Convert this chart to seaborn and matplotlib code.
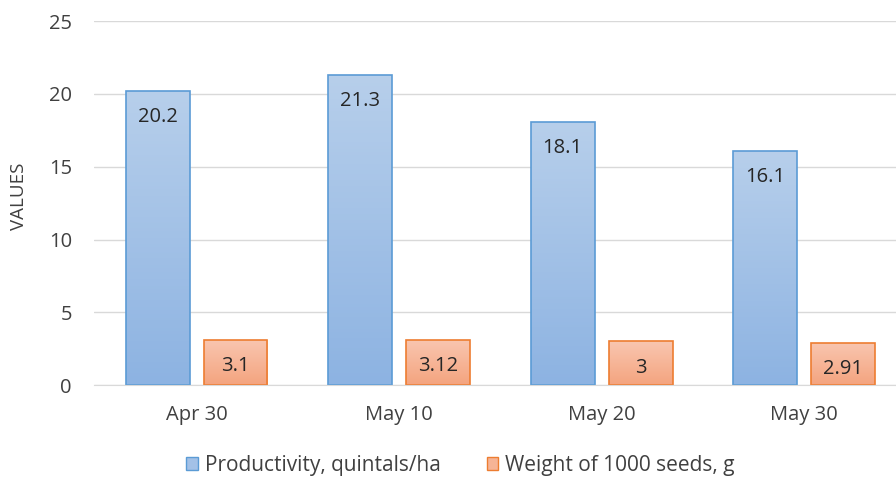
import numpy as np
import pandas as pd
import matplotlib
matplotlib.use('Agg')
import matplotlib.pyplot as plt
import seaborn as sns
from matplotlib.colors import LinearSegmentedColormap
from matplotlib.patches import Patch

# Data
dates = ['Apr 30', 'May 10', 'May 20', 'May 30']
productivity = [20.2, 21.3, 18.1, 16.1]
seed_weight = [3.1, 3.12, 3, 2.91]
series_names = ['Productivity, quintals/ha', 'Weight of 1000 seeds, g']
value_labels = [['20.2', '21.3', '18.1', '16.1'], ['3.1', '3.12', '3', '2.91']]

df = pd.DataFrame({
    'Date': dates * 2,
    'Value': productivity + seed_weight,
    'Series': [series_names[0]] * 4 + [series_names[1]] * 4,
})

sns.set_style('white')
plt.rcParams['font.family'] = ['Open Sans', 'DejaVu Sans']

fig = plt.figure(figsize=(8.96, 4.79), dpi=100)
ax = fig.add_axes([0.105, 0.196, 0.895, 0.760])

edge_cols = ['#5b9bd5', '#ed7d31']
grad_cols = [('#b7cfeb', '#8db3e2'), ('#f9c6b0', '#f4a47f')]
mid_cols = ['#a3c1e7', '#f6b496']

sns.barplot(data=df, x='Date', y='Value', hue='Series', order=dates,
            hue_order=series_names, palette=mid_cols, width=0.77, gap=0.18,
            legend=False, ax=ax)

# gradient fill + value labels
for i, cont in enumerate(ax.containers):
    cmap = LinearSegmentedColormap.from_list('g%d' % i, [grad_cols[i][1], grad_cols[i][0]])
    for j, bar in enumerate(cont):
        x0, y0 = bar.get_x(), bar.get_y()
        w, h = bar.get_width(), bar.get_height()
        bar.set_edgecolor(edge_cols[i])
        bar.set_linewidth(1.2)
        grad = np.linspace(0, 1, 100).reshape(-1, 1)
        im = ax.imshow(grad, cmap=cmap, extent=[x0, x0 + w, y0, y0 + h],
                       origin='lower', aspect='auto', zorder=bar.get_zorder() + 0.1)
        im.set_clip_path(bar)
        bar.set_facecolor('none')
        bar.set_zorder(bar.get_zorder() + 0.2)
        ax.annotate(value_labels[i][j], (x0 + w / 2, y0 + h), xytext=(0, -19),
                    textcoords='offset points', ha='center', va='center',
                    fontsize=14.5, color='#262626', zorder=5)

ax.set_xlim(-0.506, 3.454)
ax.set_ylim(0, 25)
ax.set_yticks([0, 5, 10, 15, 20, 25])
ax.yaxis.grid(True, color='#d9d9d9', linewidth=1)
ax.set_axisbelow(True)
for s in ['top', 'right', 'left']:
    ax.spines[s].set_visible(False)
ax.spines['bottom'].set_color('#d9d9d9')
ax.tick_params(axis='both', length=0, labelsize=14.5, colors='#404040')
ax.tick_params(axis='x', pad=14)
ax.tick_params(axis='y', pad=16)
ax.set_xlabel('')
ax.set_ylabel('VALUES', fontsize=13.5, color='#404040')
ax.yaxis.set_label_coords(-0.082, 0.519)

handles = [Patch(facecolor=mid_cols[k], edgecolor=edge_cols[k], linewidth=1) for k in range(2)]
fig.legend(handles, series_names, loc='center', bbox_to_anchor=(0.514, 0.028),
           ncol=2, frameon=False, fontsize=15, handlelength=0.55, handleheight=0.55,
           handletextpad=0.35, columnspacing=2.2, labelcolor='#404040')

fig.savefig('out.png', dpi=100)
